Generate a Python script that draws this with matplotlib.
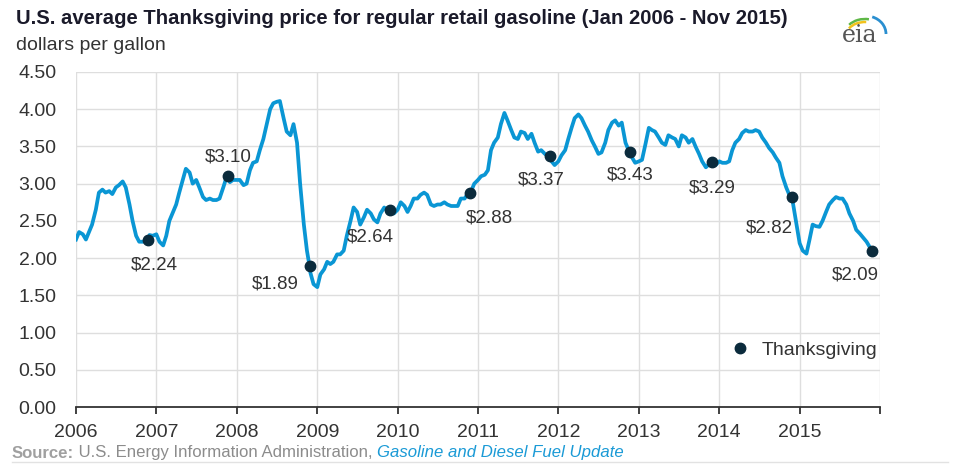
import matplotlib
matplotlib.use("Agg")
import matplotlib.pyplot as plt
from matplotlib.patches import Arc
from matplotlib.lines import Line2D
import numpy as np
import pandas as pd

plt.rcParams['font.family'] = ['Liberation Sans', 'DejaVu Sans']

# semi-monthly prices (1st and 15th of each month), dollars per gallon
p2006 = [2.25, 2.35, 2.32, 2.25, 2.35, 2.45, 2.65, 2.88, 2.92, 2.88, 2.90, 2.86,
         2.95, 2.98, 3.03, 2.95, 2.72, 2.50, 2.30, 2.22, 2.22, 2.23, 2.31, 2.30]
p2007 = [2.32, 2.22, 2.17, 2.30, 2.50, 2.60, 2.72, 2.88, 3.05, 3.20, 3.15, 3.00,
         3.05, 2.95, 2.82, 2.78, 2.80, 2.78, 2.78, 2.80, 2.95, 3.08, 3.02, 3.05]
p2008 = [3.05, 3.05, 2.98, 3.00, 3.18, 3.28, 3.30, 3.45, 3.60, 3.78, 4.00, 4.08,
         4.10, 4.11, 3.88, 3.70, 3.65, 3.80, 3.55, 3.00, 2.45, 2.10, 1.80, 1.65]
p2009 = [1.61, 1.78, 1.85, 1.95, 1.92, 1.95, 2.05, 2.05, 2.10, 2.30, 2.50, 2.68,
         2.62, 2.45, 2.55, 2.65, 2.60, 2.52, 2.48, 2.60, 2.68, 2.64, 2.62, 2.60]
p2010 = [2.65, 2.75, 2.70, 2.62, 2.70, 2.80, 2.80, 2.85, 2.88, 2.85, 2.72, 2.70,
         2.72, 2.72, 2.75, 2.72, 2.70, 2.70, 2.70, 2.80, 2.80, 2.86, 2.90, 3.00]
p2011 = [3.05, 3.10, 3.12, 3.18, 3.45, 3.55, 3.62, 3.80, 3.95, 3.85, 3.72, 3.62,
         3.60, 3.70, 3.68, 3.60, 3.67, 3.55, 3.43, 3.45, 3.40, 3.37, 3.30, 3.25]
p2012 = [3.30, 3.38, 3.45, 3.60, 3.75, 3.88, 3.93, 3.88, 3.78, 3.70, 3.58, 3.50,
         3.40, 3.42, 3.55, 3.72, 3.82, 3.85, 3.78, 3.82, 3.55, 3.45, 3.35, 3.28]
p2013 = [3.30, 3.32, 3.55, 3.75, 3.72, 3.70, 3.62, 3.55, 3.52, 3.65, 3.62, 3.60,
         3.50, 3.65, 3.62, 3.55, 3.60, 3.50, 3.40, 3.30, 3.22, 3.26, 3.28, 3.25]
p2014 = [3.30, 3.28, 3.28, 3.30, 3.45, 3.55, 3.60, 3.68, 3.72, 3.70, 3.70, 3.72,
         3.70, 3.62, 3.55, 3.48, 3.42, 3.35, 3.28, 3.10, 2.95, 2.85, 2.75, 2.50]
p2015 = [2.20, 2.10, 2.06, 2.25, 2.45, 2.43, 2.42, 2.50, 2.62, 2.72, 2.78, 2.82,
         2.80, 2.80, 2.72, 2.60, 2.50, 2.38, 2.33, 2.28, 2.22, 2.15]

prices = p2006 + p2007 + p2008 + p2009 + p2010 + p2011 + p2012 + p2013 + p2014 + p2015
dates = pd.date_range('2006-01-01', periods=len(prices), freq='SMS')

# Thanksgiving prices
tg_dates = pd.to_datetime(['2006-11-23', '2007-11-22', '2008-11-27', '2009-11-26', '2010-11-25',
                           '2011-11-24', '2012-11-22', '2013-11-28', '2014-11-27', '2015-11-26'])
tg_prices = [2.24, 3.10, 1.89, 2.64, 2.88, 3.37, 3.43, 3.29, 2.82, 2.09]
# label offsets in points (dx, dy)
tg_offsets = [(5, -18), (0, 14), (-25, -13), (-14, -19), (14, -18),
              (-6, -17), (0, -17), (0, -19), (-16, -22), (-12, -17)]

years = list(range(2006, 2017))

series = pd.concat([pd.Series(prices, index=dates),
                    pd.Series(tg_prices, index=tg_dates)]).sort_index()

blue = '#0a96d4'
navy = '#0b2b3c'
txt = '#333333'

fig = plt.figure(figsize=(9.6, 4.72), dpi=100)
ax = fig.add_axes([76 / 960, 1 - 407 / 472, 804 / 960, 335 / 472])

ax.plot(series.index, series.values, color=blue, lw=2.7, solid_joinstyle='round', zorder=3)
ax.plot(tg_dates, tg_prices, 'o', color=navy, ms=7.5, zorder=4, label='Thanksgiving')

for d, v, off in zip(tg_dates, tg_prices, tg_offsets):
    ax.annotate('$%.2f' % v, (d, v), xytext=off, textcoords='offset points',
                ha='center', va='center', fontsize=13.5, color=txt)

ax.set_xlim(pd.Timestamp('2006-01-01'), pd.Timestamp('2016-01-01'))
ax.set_ylim(0, 4.5)
ax.set_yticks(np.arange(0, 4.51, 0.5))
ax.set_yticklabels(['%.2f' % v for v in np.arange(0, 4.51, 0.5)])
xt = [pd.Timestamp('%d-01-01' % y) for y in years]
ax.set_xticks(xt)
ax.set_xticklabels([str(y) if y < 2016 else '' for y in years])

ax.grid(True, color='#dedede', lw=1)
ax.set_axisbelow(True)
for s in ['top', 'right', 'left']:
    ax.spines[s].set_visible(False)
ax.spines['bottom'].set_color(txt)
ax.spines['bottom'].set_linewidth(1.3)
ax.tick_params(axis='y', length=0, pad=14, labelsize=14, labelcolor=txt)
ax.tick_params(axis='x', length=5, width=1.3, color=txt, pad=7, labelsize=14, labelcolor=txt)

ax.legend(loc='center left', bbox_to_anchor=(0.79, 0.17), frameon=False,
          fontsize=14, handletextpad=0.5, handlelength=1.2, labelcolor=txt)

# title
fig.text(16 / 960, 1 - 19 / 472, 'U.S. average Thanksgiving price for regular retail gasoline (Jan 2006 - Nov 2015)',
         fontsize=14.6, fontweight='bold', color='#1a1a2a', va='center')
fig.text(16 / 960, 1 - 45 / 472, 'dollars per gallon', fontsize=14, color=txt, va='center')

# source line
src = fig.text(12 / 960, 1 - 453 / 472, 'Source:', fontsize=12.1, fontweight='bold',
               color='#a0a0a0', va='center')
src2 = fig.text(0, 0, ' U.S. Energy Information Administration, ', fontsize=12.1, color='#8c8c8c')
src3 = fig.text(0, 0, 'Gasoline and Diesel Fuel Update', fontsize=12.1, color='#1a9ad6', style='italic')
fig.canvas.draw()
r = fig.canvas.get_renderer()
bb = src.get_window_extent(r)
src2.set_position((bb.x1 / 960, 1 - 453 / 472))
src2.set_va('center')
bb2 = src2.get_window_extent(r)
src3.set_position((bb2.x1 / 960, 1 - 453 / 472))
src3.set_va('center')
fig.add_artist(Line2D([12 / 960, 948 / 960], [1 - 462 / 472] * 2, color='#e2e2e2', lw=1))

# eia logo
lax = fig.add_axes([838 / 960, 1 - 48 / 472, 50 / 960, 40 / 472])
lax.set_xlim(0, 50)
lax.set_ylim(0, 40)
lax.axis('off')
lax.text(22, 12, 'eia', fontsize=17, family='DejaVu Serif', color='#555555', ha='center', va='center')
lax.add_patch(Arc((28, 14), 40, 36, theta1=0, theta2=70, color='#2a8fd0', lw=2))
lax.add_patch(Arc((27, 14), 40, 30, theta1=75, theta2=150, color='#5fb847', lw=1.8))
lax.add_patch(Arc((27, 12), 38, 28, theta1=85, theta2=155, color='#f2c21b', lw=1.8))

fig.savefig('out.png', dpi=100)
